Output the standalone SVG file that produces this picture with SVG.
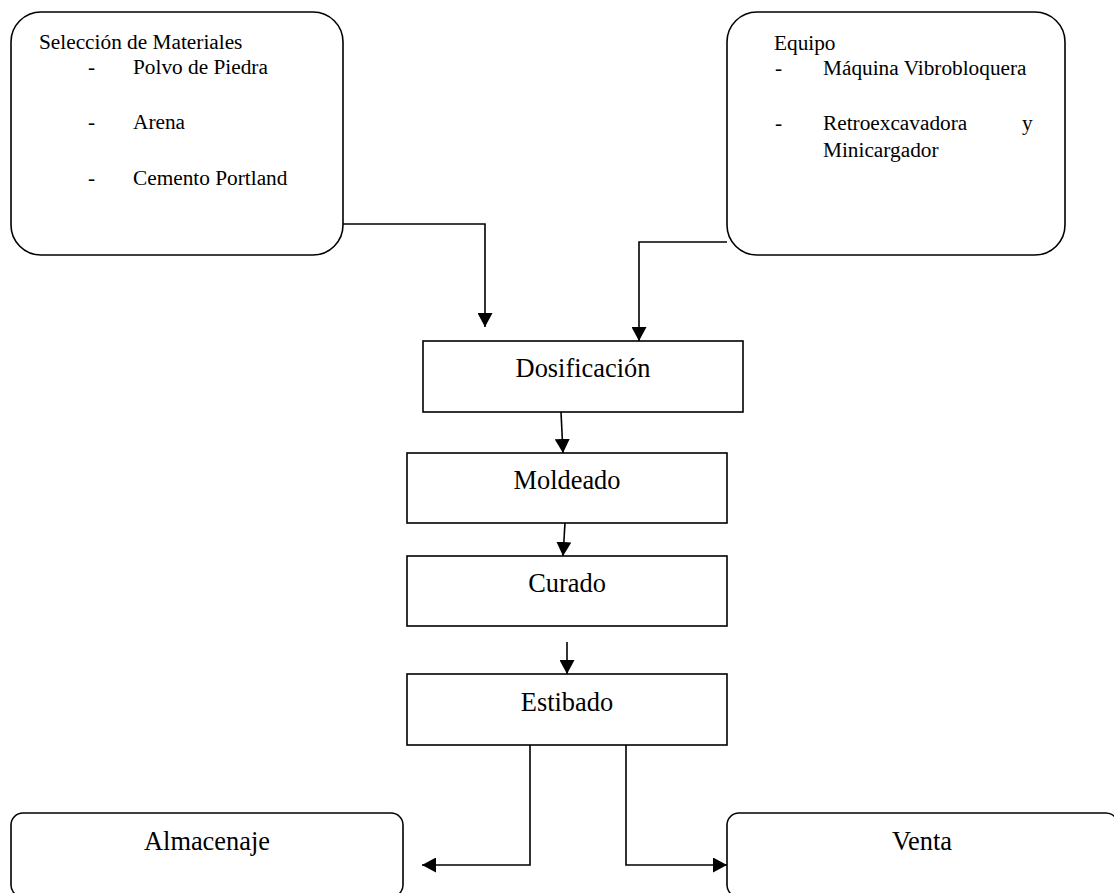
<svg xmlns="http://www.w3.org/2000/svg" width="1114" height="893" viewBox="0 0 1114 893">
<style>
.box{fill:#fff;stroke:#000;stroke-width:1.6}
.conn{fill:none;stroke:#000;stroke-width:1.6}
.lst{font-family:"Liberation Serif","Times New Roman",serif;font-size:21.3px;fill:#000}
.lbl{font-family:"Liberation Serif","Times New Roman",serif;font-size:26.4px;fill:#000;text-anchor:middle}
</style>
<defs>
<marker id="arr" markerUnits="userSpaceOnUse" markerWidth="15" markerHeight="15" refX="14" refY="7.5" orient="auto">
<path d="M0,0 L14,7.5 L0,15 z" fill="#000"/>
</marker>
</defs>
<rect width="1114" height="893" fill="#fff"/>
<g id="connectors">
<path class="conn" d="M343,224 H485 V327" marker-end="url(#arr)"/>
<path class="conn" d="M727,242 H639 V341" marker-end="url(#arr)"/>
<path class="conn" d="M561,412 L563,453" marker-end="url(#arr)"/>
<path class="conn" d="M565,523 L563,556" marker-end="url(#arr)"/>
<path class="conn" d="M567,642 V674" marker-end="url(#arr)"/>
<path class="conn" d="M530,745 V865 H422" marker-end="url(#arr)"/>
<path class="conn" d="M626,745 V865 H727" marker-end="url(#arr)"/>
</g>
<g id="materiales">
<rect class="box" x="11" y="12" width="332" height="243" rx="30"/>
<text class="lst" x="39" y="49">Selección de Materiales</text>
<text class="lst" x="88" y="74">-</text>
<text class="lst" x="133" y="74">Polvo de Piedra</text>
<text class="lst" x="88" y="129">-</text>
<text class="lst" x="133" y="129">Arena</text>
<text class="lst" x="88" y="185">-</text>
<text class="lst" x="133" y="185">Cemento Portland</text>
</g>
<g id="equipo">
<rect class="box" x="727" y="12" width="338" height="243" rx="30"/>
<text class="lst" x="774" y="50">Equipo</text>
<text class="lst" x="775" y="75">-</text>
<text class="lst" x="823" y="75">Máquina Vibrobloquera</text>
<text class="lst" x="775" y="130">-</text>
<text class="lst" x="823" y="130">Retroexcavadora</text>
<text class="lst" x="1022" y="130">y</text>
<text class="lst" x="823" y="157">Minicargador</text>
</g>
<g id="dosificacion">
<rect class="box" x="423" y="341" width="320" height="71"/>
<text class="lbl" x="583" y="377">Dosificación</text>
</g>
<g id="moldeado">
<rect class="box" x="407" y="453" width="320" height="70"/>
<text class="lbl" x="567" y="489">Moldeado</text>
</g>
<g id="curado">
<rect class="box" x="407" y="556" width="320" height="70"/>
<text class="lbl" x="567" y="592">Curado</text>
</g>
<g id="estibado">
<rect class="box" x="407" y="674" width="320" height="71"/>
<text class="lbl" x="567" y="711">Estibado</text>
</g>
<g id="almacenaje">
<rect class="box" x="11" y="813" width="392" height="84" rx="12"/>
<text class="lbl" x="207" y="850">Almacenaje</text>
</g>
<g id="venta">
<rect class="box" x="727" y="813" width="391" height="84" rx="12"/>
<text class="lbl" x="922" y="850">Venta</text>
</g>
</svg>
